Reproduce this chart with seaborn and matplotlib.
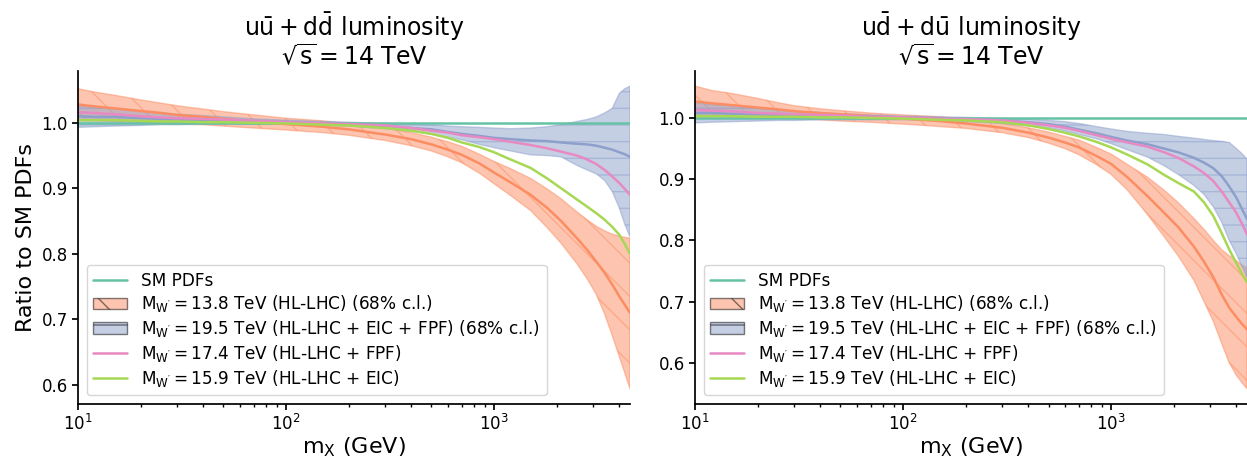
import numpy as np
import pandas as pd
import matplotlib
matplotlib.use("Agg")
import matplotlib.pyplot as plt
from matplotlib.lines import Line2D
from matplotlib.patches import Patch
import seaborn as sns

# Invariant-mass grid (GeV)
m_x = [10, 12, 15, 20, 25, 30, 40, 50, 70, 100, 150, 200, 300, 400, 500, 600, 700,
       850, 1000, 1200, 1500, 1800, 2100, 2500, 2800, 3100, 3400, 3700, 4000, 4250, 4500]

# ---- u ubar + d dbar luminosity, ratio to SM PDFs ----
uu_sm = [1.0] * len(m_x)
uu_hllhc = [1.028, 1.025, 1.022, 1.018, 1.015, 1.012, 1.009, 1.006, 1.002, 0.998,
            0.994, 0.990, 0.982, 0.975, 0.967, 0.959, 0.951, 0.938, 0.924, 0.909,
            0.890, 0.870, 0.850, 0.824, 0.806, 0.788, 0.771, 0.753, 0.735, 0.722, 0.710]
uu_hllhc_hi = [1.052, 1.047, 1.042, 1.035, 1.030, 1.026, 1.021, 1.017, 1.012, 1.007,
               1.003, 0.999, 0.992, 0.985, 0.978, 0.971, 0.964, 0.952, 0.941, 0.930,
               0.915, 0.899, 0.884, 0.864, 0.852, 0.842, 0.835, 0.830, 0.827, 0.825, 0.824]
uu_hllhc_lo = [1.004, 1.003, 1.002, 1.001, 1.000, 0.998, 0.997, 0.995, 0.992, 0.989,
               0.985, 0.981, 0.973, 0.965, 0.957, 0.948, 0.939, 0.923, 0.907, 0.889,
               0.866, 0.840, 0.816, 0.785, 0.762, 0.738, 0.708, 0.675, 0.643, 0.618, 0.594]
uu_all = [1.010, 1.009, 1.009, 1.007, 1.006, 1.005, 1.004, 1.004, 1.002, 1.001,
          0.999, 0.998, 0.995, 0.992, 0.990, 0.986, 0.983, 0.980, 0.977, 0.975,
          0.973, 0.972, 0.970, 0.968, 0.967, 0.965, 0.962, 0.959, 0.955, 0.952, 0.948]
uu_all_hi = [1.026, 1.024, 1.022, 1.018, 1.015, 1.013, 1.011, 1.009, 1.006, 1.004,
             1.002, 1.001, 0.999, 0.998, 0.997, 0.995, 0.994, 0.993, 0.992, 0.991,
             0.992, 0.994, 0.997, 1.002, 1.005, 1.009, 1.015, 1.022, 1.045, 1.052, 1.056]
uu_all_lo = [0.993, 0.994, 0.995, 0.996, 0.997, 0.997, 0.998, 0.998, 0.998, 0.998,
             0.996, 0.995, 0.991, 0.987, 0.983, 0.978, 0.974, 0.967, 0.962, 0.957,
             0.951, 0.950, 0.948, 0.935, 0.928, 0.922, 0.912, 0.895, 0.870, 0.845, 0.826]
uu_fpf = [1.016, 1.015, 1.013, 1.010, 1.008, 1.007, 1.006, 1.005, 1.003, 1.001,
          0.999, 0.998, 0.996, 0.992, 0.988, 0.985, 0.981, 0.978, 0.975, 0.971,
          0.966, 0.961, 0.956, 0.950, 0.944, 0.937, 0.928, 0.918, 0.908, 0.899, 0.890]
uu_eic = [1.004, 1.004, 1.004, 1.003, 1.002, 1.002, 1.001, 1.001, 1.000, 0.999,
          0.997, 0.996, 0.992, 0.988, 0.983, 0.977, 0.970, 0.963, 0.955, 0.944,
          0.931, 0.915, 0.900, 0.883, 0.872, 0.862, 0.852, 0.841, 0.829, 0.815, 0.800]

# ---- u dbar + d ubar luminosity, ratio to SM PDFs ----
ud_sm = [1.0] * len(m_x)
ud_hllhc = [1.027, 1.024, 1.021, 1.017, 1.014, 1.011, 1.008, 1.006, 1.003, 0.999,
            0.995, 0.991, 0.984, 0.976, 0.968, 0.960, 0.952, 0.938, 0.925, 0.903,
            0.872, 0.845, 0.822, 0.790, 0.765, 0.740, 0.712, 0.690, 0.675, 0.664, 0.655]
ud_hllhc_hi = [1.052, 1.045, 1.040, 1.032, 1.025, 1.020, 1.015, 1.012, 1.008, 1.005,
               1.002, 0.998, 0.991, 0.984, 0.977, 0.970, 0.964, 0.952, 0.941, 0.924,
               0.903, 0.882, 0.862, 0.836, 0.818, 0.800, 0.785, 0.775, 0.767, 0.760, 0.755]
ud_hllhc_lo = [1.003, 1.003, 1.002, 1.001, 1.000, 0.999, 0.997, 0.995, 0.993, 0.990,
               0.986, 0.983, 0.976, 0.968, 0.959, 0.950, 0.940, 0.924, 0.908, 0.882,
               0.842, 0.806, 0.775, 0.735, 0.700, 0.668, 0.632, 0.600, 0.580, 0.568, 0.558]
ud_all = [1.008, 1.008, 1.007, 1.006, 1.005, 1.004, 1.003, 1.003, 1.002, 1.001,
          0.999, 0.998, 0.996, 0.993, 0.990, 0.986, 0.981, 0.975, 0.969, 0.963,
          0.957, 0.950, 0.944, 0.935, 0.927, 0.918, 0.905, 0.888, 0.870, 0.852, 0.835]
ud_all_hi = [1.025, 1.022, 1.020, 1.016, 1.013, 1.011, 1.009, 1.007, 1.005, 1.003,
             1.002, 1.001, 0.999, 0.998, 0.996, 0.994, 0.991, 0.986, 0.982, 0.978,
             0.975, 0.973, 0.970, 0.967, 0.965, 0.963, 0.962, 0.960, 0.950, 0.942, 0.933]
ud_all_lo = [0.992, 0.993, 0.994, 0.995, 0.996, 0.996, 0.997, 0.997, 0.997, 0.997,
             0.996, 0.994, 0.991, 0.987, 0.984, 0.979, 0.973, 0.966, 0.958, 0.948,
             0.936, 0.922, 0.908, 0.890, 0.875, 0.855, 0.830, 0.800, 0.778, 0.758, 0.740]
ud_fpf = [1.013, 1.012, 1.011, 1.008, 1.007, 1.006, 1.005, 1.004, 1.002, 1.001,
          0.999, 0.998, 0.996, 0.992, 0.988, 0.984, 0.979, 0.972, 0.966, 0.960,
          0.953, 0.944, 0.935, 0.921, 0.910, 0.897, 0.880, 0.862, 0.845, 0.828, 0.810]
ud_eic = [1.003, 1.003, 1.003, 1.002, 1.002, 1.002, 1.001, 1.001, 1.000, 0.999,
          0.997, 0.996, 0.993, 0.988, 0.982, 0.976, 0.970, 0.961, 0.952, 0.940,
          0.924, 0.907, 0.894, 0.880, 0.862, 0.840, 0.812, 0.785, 0.763, 0.746, 0.732]

titles = [r"$\mathrm{u\bar{u} + d\bar{d}}$ luminosity" + "\n" + r"$\sqrt{s} = 14$ TeV",
          r"$\mathrm{u\bar{d} + d\bar{u}}$ luminosity" + "\n" + r"$\sqrt{s} = 14$ TeV"]

labels = ["SM PDFs",
          r"$M_{W'} = 13.8$ TeV (HL-LHC) (68% c.l.)",
          r"$M_{W'} = 19.5$ TeV (HL-LHC + EIC + FPF) (68% c.l.)",
          r"$M_{W'} = 17.4$ TeV (HL-LHC + FPF)",
          r"$M_{W'} = 15.9$ TeV (HL-LHC + EIC)"]

sns.set_theme(style="ticks")
plt.rcParams["font.family"] = ["DejaVu Sans"]
plt.rcParams.update({
    "mathtext.default": "regular",
    "text.color": "black",
    "axes.labelcolor": "black",
    "axes.edgecolor": "black",
    "axes.linewidth": 1.25,
    "xtick.color": "black",
    "ytick.color": "black",
    "xtick.major.size": 4,
    "ytick.major.size": 4,
    "xtick.minor.size": 2.5,
    "xtick.major.pad": 3.5,
    "ytick.major.pad": 3.5,
    "hatch.linewidth": 1.0,
})

pal = sns.color_palette("Set2")
c_sm, c_hl, c_all, c_fpf, c_eic = pal[0], pal[1], pal[2], pal[3], pal[4]

fig, axes = plt.subplots(1, 2, figsize=(12.47, 4.61), dpi=100)
fig.subplots_adjust(left=0.0626, right=1.0, top=0.846, bottom=0.124, wspace=0.118)

panels = [
    (uu_sm, uu_hllhc, uu_hllhc_hi, uu_hllhc_lo, uu_all, uu_all_hi, uu_all_lo, uu_fpf, uu_eic),
    (ud_sm, ud_hllhc, ud_hllhc_hi, ud_hllhc_lo, ud_all, ud_all_hi, ud_all_lo, ud_fpf, ud_eic),
]

for ax, title, (sm, hl, hl_hi, hl_lo, al, al_hi, al_lo, fpf, eic) in zip(axes, titles, panels):
    x = np.array(m_x, dtype=float)

    # 68% c.l. uncertainty bands
    ax.fill_between(x, hl_lo, hl_hi, facecolor=c_hl, edgecolor=c_hl,
                    alpha=0.5, hatch="\\", lw=1.0)
    ax.fill_between(x, al_lo, al_hi, facecolor=c_all, edgecolor=c_all,
                    alpha=0.5, hatch="-", lw=1.0)

    df = pd.DataFrame({"m": x, "sm": sm, "hl": hl, "all": al, "fpf": fpf, "eic": eic})
    sns.lineplot(data=df, x="m", y="sm", color=c_sm, lw=1.8, ax=ax)
    sns.lineplot(data=df, x="m", y="hl", color=c_hl, lw=1.8, ax=ax)
    sns.lineplot(data=df, x="m", y="all", color=c_all, lw=1.8, ax=ax)
    sns.lineplot(data=df, x="m", y="fpf", color=c_fpf, lw=1.8, ax=ax)
    sns.lineplot(data=df, x="m", y="eic", color=c_eic, lw=1.8, ax=ax)

    ax.set_xscale("log")
    ax.set_xlim(x[0], x[-1])
    ax.set_title(title, fontsize=17, pad=4, linespacing=1.05)
    ax.set_xlabel(r"$m_X$ (GeV)", fontsize=16, labelpad=0.5)
    ax.set_ylabel("")
    ax.tick_params(axis="both", labelsize=12)
    sns.despine(ax=ax)

    handles = [
        Line2D([], [], color=c_sm, lw=1.8),
        Patch(facecolor=c_hl, edgecolor="black", alpha=0.5, hatch="\\"),
        Patch(facecolor=c_all, edgecolor="black", alpha=0.5, hatch="-"),
        Line2D([], [], color=c_fpf, lw=1.8),
        Line2D([], [], color=c_eic, lw=1.8),
    ]
    ax.legend(handles, labels, loc="lower left", fontsize=12.2, labelspacing=0.22)

axes[0].set_ylabel("Ratio to SM PDFs", fontsize=16)

fig.savefig("out.png", dpi=100)
